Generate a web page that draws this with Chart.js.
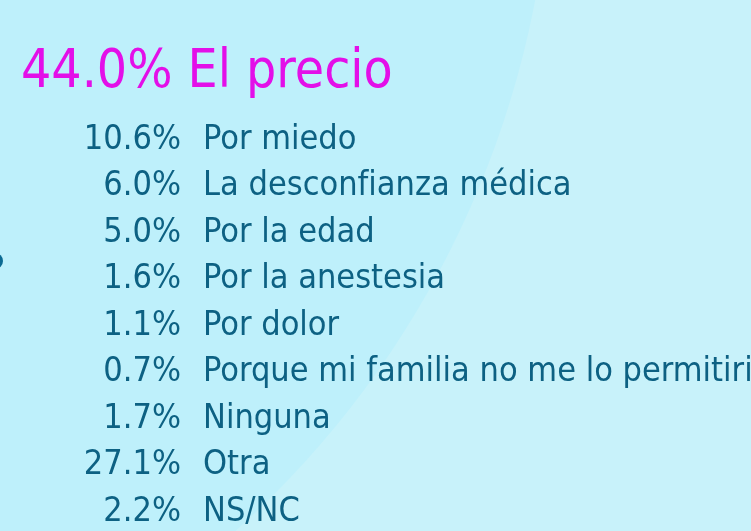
<!DOCTYPE html>
<html lang="es">
<head>
<meta charset="utf-8">
<title>Motivos</title>
<script src="https://cdn.jsdelivr.net/npm/chart.js@4/dist/chart.umd.min.js"></script>
<style>
    html, body { margin: 0; padding: 0; background: #c8f2fa; }
    #wrap { width: 751px; height: 531px; position: relative; }
</style>
</head>
<body>
<div id="wrap"><canvas id="chart"></canvas></div>
<script>
// ── Data ──────────────────────────────────────────────────────
const categories = [
    'El precio',
    'Por miedo',
    'La desconfianza médica',
    'Por la edad',
    'Por la anestesia',
    'Por dolor',
    'Porque mi familia no me lo permitiria',
    'Ninguna',
    'Otra',
    'NS/NC'
];
const values = [44.0, 10.6, 6.0, 5.0, 1.6, 1.1, 0.7, 1.7, 27.1, 2.2];

const FONT      = '"DejaVu Sans Condensed", "Liberation Sans Narrow", sans-serif';
const TEXT_DARK = '#0d6183';
const TEXT_HEAD = '#e30fe8';
const ROW_SIZE  = 34;

const fmt = v => v.toFixed(1) + '%';

// first answer is the headline, the rest go on the category axis
const rowLabels = categories.slice(1);
const rowValues = values.slice(1);

// ── Background: two-tone panel with the big arc ───────────────
const backdrop = {
    id: 'backdrop',
    beforeDraw(chart) {
        const { ctx, width, height } = chart;
        ctx.save();
        ctx.fillStyle = '#c8f2fa';
        ctx.fillRect(0, 0, width, height);
        ctx.beginPath();
        ctx.arc(-400, -178, 952, 0, Math.PI * 2);
        ctx.fillStyle = '#bef0fb';
        ctx.fill();
        ctx.beginPath();
        ctx.arc(-5, 261, 8, 0, Math.PI * 2);
        ctx.fillStyle = '#0b6a92';
        ctx.fill();
        ctx.restore();
    }
};

// ── Answer text next to each percentage ───────────────────────
const rowText = {
    id: 'rowText',
    afterDraw(chart) {
        const { ctx, chartArea } = chart;
        const y = chart.scales.y;
        ctx.save();
        ctx.font = ROW_SIZE + 'px ' + FONT;
        ctx.fillStyle = TEXT_DARK;
        ctx.textAlign = 'left';
        ctx.textBaseline = 'middle';
        rowLabels.forEach((label, i) => {
            ctx.fillText(label, chartArea.left + 22, y.getPixelForValue(i));
        });
        ctx.restore();
    }
};

new Chart(document.getElementById('chart'), {
    type: 'bar',
    data: {
        labels: rowLabels,
        datasets: [{
            data: rowValues,
            backgroundColor: 'rgba(0,0,0,0)',
            borderWidth: 0
        }]
    },
    plugins: [backdrop, rowText],
    options: {
        indexAxis: 'y',
        responsive: true,
        maintainAspectRatio: false,
        animation: false,
        layout: {
            autoPadding: false,
            padding: { left: 21, right: 0, top: 0, bottom: 19 }
        },
        plugins: {
            legend: { display: false },
            tooltip: { enabled: false },
            title: {
                display: true,
                text: fmt(values[0]) + ' ' + categories[0],
                align: 'start',
                color: TEXT_HEAD,
                font: { family: FONT, size: 53, weight: 'normal', lineHeight: 1.2 },
                padding: { top: 41, bottom: 35.4 }
            }
        },
        scales: {
            x: { display: false, min: 0 },
            y: {
                offset: false,
                afterFit: scale => { scale.width = 160; },
                grid: { display: false, drawTicks: false },
                border: { display: false },
                ticks: {
                    padding: 0,
                    color: TEXT_DARK,
                    font: { family: FONT, size: ROW_SIZE, lineHeight: 1 },
                    callback: (val, i) => fmt(rowValues[i])
                }
            }
        }
    }
});
</script>
</body>
</html>
